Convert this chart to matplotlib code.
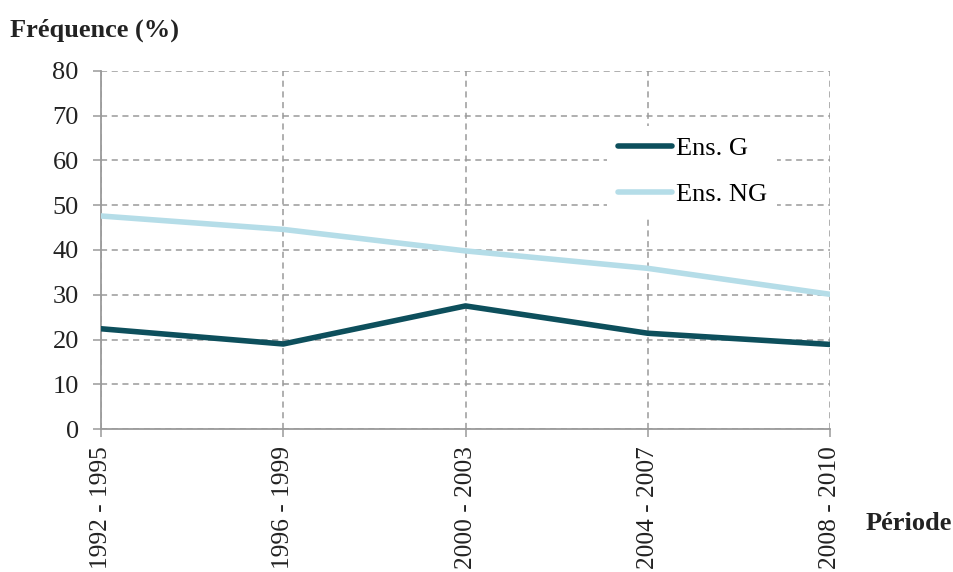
import matplotlib
matplotlib.use("Agg")
import matplotlib.pyplot as plt

periods = ["1992 - 1995", "1996 - 1999", "2000 - 2003", "2004 - 2007", "2008 - 2010"]
ens_g = [22.4, 19.0, 27.5, 21.4, 18.9]
ens_ng = [47.6, 44.6, 39.8, 35.9, 30.1]
yticks = [0, 10, 20, 30, 40, 50, 60, 70, 80]

plt.rcParams['font.family'] = ['Liberation Serif', 'DejaVu Serif']

fig = plt.figure(figsize=(9.54, 5.72), dpi=100)
ax = fig.add_axes([101/954, 1-429/572, (830-101)/954, (429-71)/572])

x = list(range(len(periods)))
ax.plot(x, ens_g, color="#0d4f5c", lw=4.0, label="Ens. G", solid_capstyle="round", zorder=3)
ax.plot(x, ens_ng, color="#b5dde8", lw=4.0, label="Ens. NG", solid_capstyle="round", zorder=3)

ax.set_xlim(0, len(periods)-1)
ax.set_ylim(0, 80)
ax.set_yticks(yticks)
ax.set_xticks(x)
ax.set_xticklabels(periods, rotation=90, fontsize=18.3, color="#222222")
ax.set_yticklabels([str(v) for v in yticks], fontsize=19, color="#222222")

gc = "#9a9a9a"
ax.grid(True, color=gc, linestyle=(0, (4, 3)), lw=1.1)
for s in ["top", "right"]:
    ax.spines[s].set_visible(False)
for s in ["left", "bottom"]:
    ax.spines[s].set_color(gc)
    ax.spines[s].set_linewidth(1.3)
ax.tick_params(axis="both", length=6, width=1.1, color=gc)
ax.tick_params(axis="y", pad=10)
ax.tick_params(axis="x", pad=6.5)

leg = ax.legend(loc="upper left", bbox_to_anchor=((607-101)/729, 1-(126-71)/358),
                fontsize=19, frameon=True, facecolor="white", edgecolor="none",
                framealpha=1, fancybox=False, handlelength=2.05, handletextpad=0.15,
                labelspacing=0.85, borderpad=0.4, borderaxespad=0)
leg.set_zorder(5)

fig.text(10/954, 1-30/572, "Fréquence (%)", fontsize=19, fontweight="bold",
         ha="left", va="center", color="#222222")
fig.text(866/954, 1-523/572, "Période", fontsize=19, fontweight="bold",
         ha="left", va="center", color="#222222")

fig.savefig("out.png", dpi=100)
